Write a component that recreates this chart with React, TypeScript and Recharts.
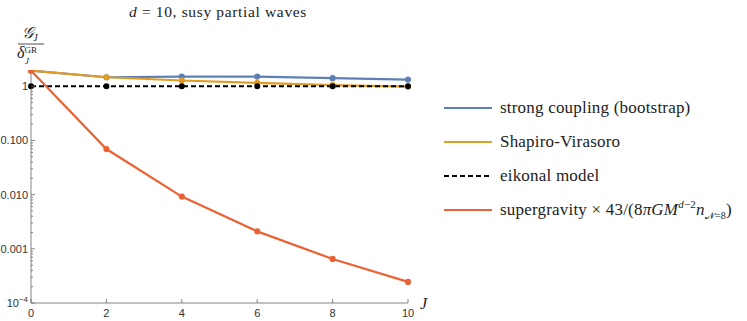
import React from "react";
import { LineChart, Line, XAxis, YAxis, Customized } from "recharts";

const J = [0, 2, 4, 6, 8, 10];
const strongCoupling = [1.95, 1.47, 1.51, 1.51, 1.41, 1.33];
const shapiroVirasoro = [1.95, 1.47, 1.28, 1.16, 1.05, 0.99];
const eikonal = [1, 1, 1, 1, 1, 1];
const supergravity = [1.95, 0.0695, 0.0092, 0.0021, 0.00065, 0.000245];

const xTicks = [0, 2, 4, 6, 8, 10];
const yMajor = [0.0001, 0.001, 0.01, 0.1, 1];
const yMajorLabels = ["10^-4", "0.001", "0.010", "0.100", "1"];
const yMinorFactors = [2, 3, 4, 5, 6, 7, 8, 9];

const BLUE = "#5E81B5";
const ORANGE = "#E19C24";
const RED = "#EB6235";

const data = J.map((j, i) => ({
  J: j,
  strong: strongCoupling[i],
  sv: shapiroVirasoro[i],
  eik: eikonal[i],
  sugra: supergravity[i],
}));

const yTicks: number[] = [];
yMajor.forEach((m, i) => {
  yTicks.push(m);
  if (i < yMajor.length - 1) yMinorFactors.forEach((f) => yTicks.push(m * f));
});

const TICK_FONT = "Liberation Sans, Arial, sans-serif";
const SERIF = "Liberation Serif, Times New Roman, serif";

const YTick = (props: any) => {
  const { x, y, payload } = props;
  const v = payload.value;
  const idx = yMajor.findIndex((m) => Math.abs(m - v) / m < 1e-6);
  const major = idx >= 0;
  const len = major ? 4 : 2;
  return (
    <g>
      <line x1={x} x2={x + len} y1={y} y2={y} stroke="#666" strokeWidth={0.8} />
      {major && idx === 0 ? (
        <text x={x - 3} y={y + 4} textAnchor="end" fontFamily={TICK_FONT} fontSize={11} fill="#333">
          10<tspan dy={-5} fontSize={8}>−4</tspan>
        </text>
      ) : major ? (
        <text x={x - 3} y={y + 4} textAnchor="end" fontFamily={TICK_FONT} fontSize={11} fill="#333">
          {yMajorLabels[idx]}
        </text>
      ) : null}
    </g>
  );
};

const XTick = (props: any) => {
  const { x, y, payload } = props;
  return (
    <g>
      <line x1={x} x2={x} y1={y} y2={y - 4} stroke="#666" strokeWidth={0.8} />
      <text x={x} y={y + 14} textAnchor="middle" fontFamily={TICK_FONT} fontSize={11} fill="#333">
        {payload.value}
      </text>
    </g>
  );
};

const legendItems = [
  { color: BLUE, dash: undefined as string | undefined, label: "strong coupling (bootstrap)" },
  { color: ORANGE, dash: undefined, label: "Shapiro-Virasoro" },
  { color: "#000", dash: "5 3", label: "eikonal model" },
  { color: RED, dash: undefined, label: "supergravity" },
];

const Annotations = () => (
  <g>
    <text x={218} y={17} textAnchor="middle" fontFamily={SERIF} fontSize={15.5} letterSpacing={0.65} fill="#222">
      <tspan fontStyle="italic">d</tspan> = 10, susy partial waves
    </text>
    <text x={30} y={38} textAnchor="middle" fontFamily={SERIF} fontSize={16} fill="#222">
      <tspan fontStyle="italic">𝒢</tspan>
      <tspan dy={3} fontSize={10} fontStyle="italic">J</tspan>
    </text>
    <line x1={18} x2={44} y1={44} y2={44} stroke="#222" strokeWidth={0.8} />
    <text x={17} y={58} fontFamily={SERIF} fontSize={16} fill="#222">
      <tspan fontStyle="italic">δ</tspan>
      <tspan dy={-5} fontSize={9}>GR</tspan>
    </text>
    <text x={25} y={64} fontFamily={SERIF} fontSize={9} fontStyle="italic" fill="#222">J</text>
    <text x={420} y={309} fontFamily={SERIF} fontSize={16} fontStyle="italic" fill="#222">J</text>
    {legendItems.map((it, i) => {
      const y = 108 + i * 34;
      return (
        <g key={i}>
          <line x1={444} x2={492} y1={y} y2={y} stroke={it.color} strokeWidth={2.2} strokeDasharray={it.dash} />
          <text x={500} y={y + 5} fontFamily={SERIF} fontSize={17} letterSpacing={0.2} fill="#222">
            {it.label}
            {i === 3 ? (
              <>
                {" × 43/(8"}
                <tspan fontStyle="italic">πGM</tspan>
                <tspan dy={-7} fontSize={11} fontStyle="italic">d</tspan>
                <tspan fontSize={11}>−2</tspan>
                <tspan dy={7} fontStyle="italic">n</tspan>
                <tspan dy={4} fontSize={10}>𝒩</tspan>
                <tspan fontSize={10}>=8</tspan>
                <tspan dy={-4}>)</tspan>
              </>
            ) : null}
          </text>
        </g>
      );
    })}
  </g>
);

export default function App() {
  return (
    <div style={{ position: "absolute", left: 0, top: 0, width: 747, height: 321, background: "#fff" }}>
      <LineChart width={747} height={321} data={data} margin={{ top: 70, right: 339, bottom: 0, left: 0 }}>
        <XAxis
          dataKey="J"
          type="number"
          domain={[0, 10]}
          ticks={xTicks}
          interval={0}
          height={18}
          tickSize={0}
          tickMargin={0}
          tickLine={false}
          tick={<XTick />}
          axisLine={{ stroke: "#666", strokeWidth: 0.8 }}
        />
        <YAxis
          scale="log"
          type="number"
          domain={[0.0001, 2]}
          allowDataOverflow
          ticks={yTicks}
          interval={0}
          width={31}
          tickSize={0}
          tickMargin={0}
          tickLine={false}
          tick={<YTick />}
          axisLine={{ stroke: "#666", strokeWidth: 0.8 }}
        />
        <Line dataKey="strong" stroke={BLUE} strokeWidth={2.2} dot={{ r: 2, fill: BLUE, stroke: BLUE }} isAnimationActive={false} />
        <Line dataKey="sv" stroke={ORANGE} strokeWidth={2.2} dot={{ r: 2, fill: ORANGE, stroke: ORANGE }} isAnimationActive={false} />
        <Line dataKey="eik" stroke="#000" strokeWidth={2} strokeDasharray="5 3" dot={{ r: 2, fill: "#000", stroke: "#000", strokeDasharray: "" }} isAnimationActive={false} />
        <Line dataKey="sugra" stroke={RED} strokeWidth={2.2} dot={{ r: 2, fill: RED, stroke: RED }} isAnimationActive={false} />
        <Customized component={<Annotations />} />
      </LineChart>
    </div>
  );
}
